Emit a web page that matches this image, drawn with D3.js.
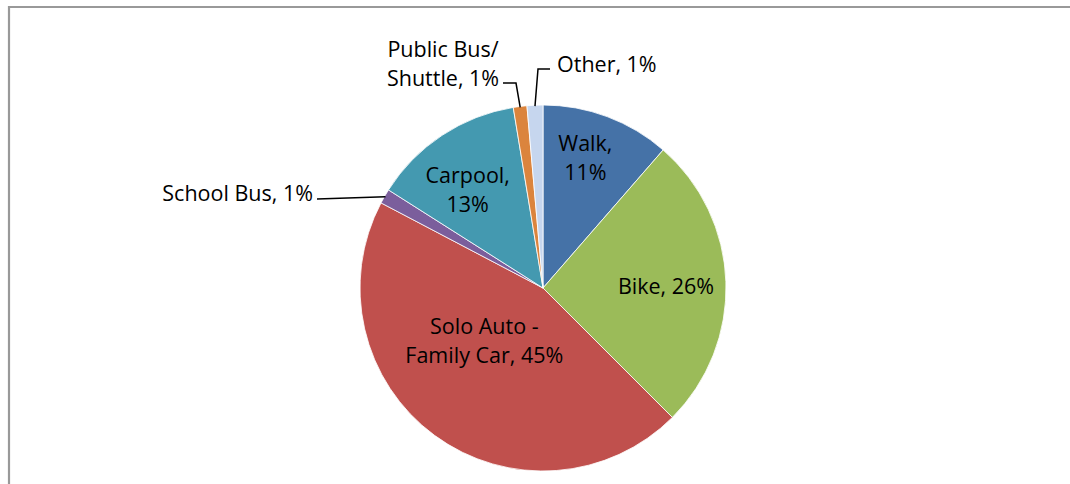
<!DOCTYPE html>
<html>
<head>
<meta charset="utf-8">
<script src="https://cdn.jsdelivr.net/npm/d3@7"></script>
<style>
  html, body { margin: 0; padding: 0; background: #fff; }
  svg { display: block; }
  text { font-family: "Open Sans", "Noto Sans", sans-serif; font-size: 21.5px; fill: #000; }
</style>
</head>
<body>
<svg id="chart" width="1070" height="484"></svg>
<script>
// ---- data ----
const categories = ["Walk", "Bike", "Solo Auto - Family Car", "School Bus", "Carpool", "Public Bus/ Shuttle", "Other"];
const shares = [11.4, 26.1, 45.2, 1.3, 13.4, 1.2, 1.4];
const labelLines = [["Walk,", "{p}"], ["Bike, {p}"], ["Solo Auto -", "Family Car, {p}"], ["School Bus, {p}"], ["Carpool,", "{p}"], ["Public Bus/", "Shuttle, {p}"], ["Other, {p}"]];

// ---- layout ----
const W = 1070, H = 484;
const cx = 543, cy = 288, R = 183;
const colors = ["#4572A7", "#9BBB59", "#C0504D", "#7B5E9C", "#4499B0", "#DB843D", "#C6D6EE"];
const color = d3.scaleOrdinal().domain(categories).range(colors);

const svg = d3.select("#chart");
// frame
svg.append("path")
  .attr("d", `M9,${H + 5} L9,7 L${W + 5},7`)
  .attr("fill", "none").attr("stroke", "#999").attr("stroke-width", 2.2);

const g = svg.append("g").attr("transform", `translate(${cx},${cy})`);
const data = categories.map((c, i) => ({ cat: c, value: shares[i], lines: labelLines[i] }));
const total = d3.sum(shares);
const pie = d3.pie().sort(null).value(d => d.value);
const arcs = pie(data);
const arc = d3.arc().innerRadius(0).outerRadius(R);

g.selectAll("path.slice").data(arcs).enter().append("path")
  .attr("class", "slice")
  .attr("d", arc)
  .attr("fill", d => color(d.data.cat))
  .attr("stroke", "#fff").attr("stroke-width", 0.8);

// label placement (inside labels: polar angle in degrees, radius in px)
const inside = {
  "Walk": { a: 18, r: 137 },
  "Bike": { a: 89.5, r: 123 },
  "Solo Auto - Family Car": { a: 228, r: 79 },
  "Carpool": { a: 322.6, r: 124 }
};
// outside labels: text anchor point and leader-line points (offset from centre)
const outside = {
  "School Bus": { x: -230, y: -95, anchor: "end", line: [[-226, -89]] },
  "Public Bus/ Shuttle": { x: -100, y: -224, anchor: "middle", line: [[-40, -205], [-27, -205]] },
  "Other": { x: 14, y: -224, anchor: "start", line: [[7, -219], [-5, -219]] }
};
const lh = 29;
const edgeArc = d3.arc().innerRadius(R - 1).outerRadius(R - 1);

arcs.forEach(d => {
  const pct = Math.round(d.data.value / total * 100) + "%";
  const lines = d.data.lines.map(s => s.replace("{p}", pct));
  let x, y, anchor = "middle";
  if (inside[d.data.cat]) {
    const p = inside[d.data.cat];
    const t = p.a * Math.PI / 180;
    x = p.r * Math.sin(t); y = -p.r * Math.cos(t);
  } else {
    const p = outside[d.data.cat];
    x = p.x; y = p.y; anchor = p.anchor;
    const e = edgeArc.centroid(d);
    const pts = p.line.concat([e]);
    g.append("path")
      .attr("d", d3.line()(pts))
      .attr("fill", "none").attr("stroke", "#000").attr("stroke-width", 1.5);
  }
  const t = g.append("text").attr("text-anchor", anchor);
  const n = lines.length;
  lines.forEach((s, i) => {
    t.append("tspan").attr("x", x)
      .attr("y", y + (i - (n - 1) / 2) * lh)
      .attr("dy", "0.35em")
      .text(s);
  });
});
</script>
</body>
</html>
